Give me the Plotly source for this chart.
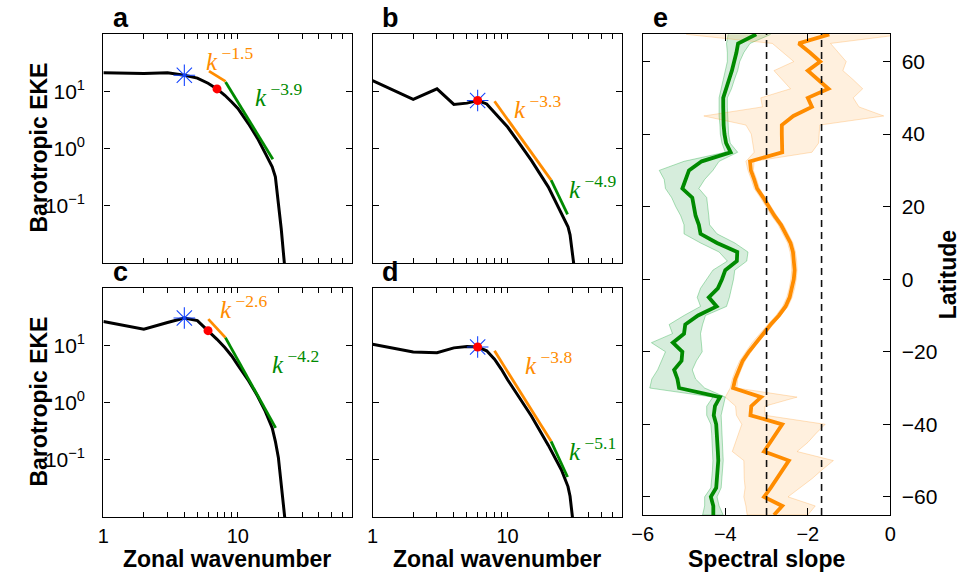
import plotly.graph_objects as go

W, H = 972, 573

# ---------------- data: spectra (panels a-d) ----------------
K_AC = [1, 2, 3, 4, 5, 6, 7, 8, 9, 10, 12, 14, 16, 18, 19, 20, 21, 22, 23]
EKE_A = [21, 20.5, 21, 19, 17, 13.8, 11, 8.5, 6.5, 5.0, 2.7, 1.5, 0.82, 0.48, 0.32, 0.12, 0.04, 0.012, 0.004]
EKE_C = [26, 19, 25, 30, 27, 18, 12.7, 9.1, 6.5, 4.5, 2.4, 1.3, 0.7, 0.36, 0.21, 0.11, 0.042, 0.014, 0.005]
K_BD = [1, 2, 3, 4, 5, 6, 7, 8, 9, 10, 12, 15, 20, 22, 25, 28, 29, 30, 31, 32]
EKE_B = [15.3, 7.2, 11, 5.9, 6.2, 6.9, 6.0, 4.3, 3.2, 2.37, 1.3, 0.62, 0.214, 0.134, 0.074, 0.043, 0.031, 0.015, 0.009, 0.005]
EKE_D = [10.4, 7.6, 7.4, 9.0, 9.5, 9.3, 8.0, 5.7, 3.8, 2.5, 1.3, 0.58, 0.18, 0.115, 0.067, 0.034, 0.023, 0.0115, 0.006, 0.003]

# fitted power-law segments: endpoints (k, EKE)
FIT_ORANGE_K = {"a": [6.1, 8.1], "b": [8.0, 21], "c": [6.03, 8.08], "d": [8.0, 21]}
FIT_ORANGE_E = {"a": [22.5, 14.9], "b": [6.7, 0.28], "c": [28.6, 13.6], "d": [8.0, 0.21]}
FIT_GREEN_K = {"a": [8.1, 18.2], "b": [21, 27.8], "c": [8.08, 19.1], "d": [21, 27.8]}
FIT_GREEN_E = {"a": [14.5, 0.65], "b": [0.28, 0.071], "c": [13.6, 0.36], "d": [0.21, 0.05]}
ORANGE_LABEL = {"a": "−1.5", "b": "−3.3", "c": "−2.6", "d": "−3.8"}
GREEN_LABEL = {"a": "−3.9", "b": "−4.9", "c": "−4.2", "d": "−5.1"}

STAR_K = {"a": 4, "b": 6, "c": 4, "d": 6}
STAR_E = {"a": 19, "b": 6.9, "c": 30, "d": 9.3}
DOT_K = {"a": 7, "b": 6, "c": 6, "d": 6}
DOT_E = {"a": 11, "b": 6.9, "c": 18, "d": 9.3}

K_TICKS = [1, 2, 3, 4, 5, 6, 7, 8, 9, 10, 20, 30, 40, 50, 60, 70]
K_TICK_TEXT = ["1", "", "", "", "", "", "", "", "", "10", "", "", "", "", "", ""]
EKE_TICKS = [0.1, 1, 10]
EKE_TICK_TEXT = ["10<sup>−1</sup>", "10<sup>0</sup>", "10<sup>1</sup>"]

# ---------------- data: spectral slope vs latitude (panel e) ----------------
LAT = [67.5, 65, 62.5, 60, 57.5, 55, 52.5, 50, 47.5, 45, 42.5, 40, 37.5, 35, 32.5, 30,
       27.5, 25, 22.5, 20, 17.5, 15, 12.5, 10, 7.5, 5, 2.5, 0, -2.5, -5, -7.5, -10,
       -12.5, -15, -17.5, -20, -22.5, -25, -27.5, -30, -32.5, -35, -37.5, -40, -42.5,
       -45, -47.5, -50, -52.5, -55, -57.5, -60, -62.5, -65]
OR_MEAN = [-1.48, -2.22, -1.95, -1.70, -2.00, -1.75, -1.50, -2.00, -1.90, -2.35, -2.63, -2.63,
           -2.63, -2.62, -3.40, -3.38, -3.30, -3.23, -3.08, -2.95, -2.81, -2.65, -2.53, -2.42,
           -2.36, -2.33, -2.32, -2.34, -2.38, -2.44, -2.54, -2.70, -2.90, -3.08, -3.28, -3.43,
           -3.58, -3.68, -3.76, -3.81, -3.13, -3.37, -3.39, -2.62, -2.76, -2.90, -3.06, -2.46,
           -2.60, -2.75, -2.90, -3.06, -2.62, -2.82]
OR_HI = [0.30, -1.45, -1.25, -1.07, -1.15, -0.90, -0.67, -0.90, -0.76, -0.16, -1.71, -1.73,
         -1.74, -1.90, -3.30, -3.32, -3.24, -3.17, -3.02, -2.89, -2.75, -2.59, -2.47, -2.36,
         -2.30, -2.27, -2.26, -2.28, -2.32, -2.38, -2.48, -2.64, -2.84, -3.02, -3.22, -3.37,
         -3.52, -3.62, -3.70, -3.72, -2.26, -3.04, -3.04, -1.58, -1.80, -2.00, -2.26, -1.38,
         -1.65, -1.90, -2.20, -2.48, -1.82, -2.00]
OR_LO = [-4.95, -2.86, -2.60, -2.34, -2.82, -2.62, -2.42, -3.14, -3.10, -4.52, -3.50, -3.37,
         -3.33, -3.30, -3.50, -3.45, -3.37, -3.30, -3.15, -3.02, -2.88, -2.72, -2.60, -2.49,
         -2.43, -2.40, -2.39, -2.41, -2.45, -2.51, -2.61, -2.77, -2.97, -3.15, -3.35, -3.50,
         -3.65, -3.75, -3.83, -3.88, -4.00, -3.75, -3.73, -3.60, -3.68, -3.75, -3.83, -3.55,
         -3.55, -3.54, -3.52, -3.55, -3.50, -3.47]
GR_MEAN = [-3.25, -3.69, -3.73, -3.78, -3.84, -3.91, -3.97, -4.05, -4.05, -4.05, -4.04, -4.02,
           -3.98, -3.87, -4.57, -4.88, -4.96, -5.04, -4.80, -4.76, -4.72, -4.64, -4.60, -4.20,
           -3.71, -3.72, -4.00, -4.08, -4.18, -4.40, -4.21, -4.66, -4.97, -5.00, -5.27, -5.04,
           -5.06, -5.24, -5.16, -5.12, -4.13, -4.25, -4.28, -4.22, -4.20, -4.19, -4.18, -4.17,
           -4.18, -4.20, -4.22, -4.35, -4.29, -4.29]
GR_HI = [-2.90, -3.40, -3.55, -3.65, -3.70, -3.78, -3.85, -3.95, -3.95, -3.95, -3.93, -3.92,
         -3.88, -3.70, -4.15, -4.30, -4.50, -4.64, -4.45, -4.42, -4.40, -4.38, -4.20, -3.77,
         -3.45, -3.48, -3.77, -3.80, -3.85, -3.90, -3.97, -4.48, -4.55, -4.60, -4.58, -4.56,
         -4.70, -4.80, -4.72, -4.50, -4.00, -4.05, -4.10, -4.10, -4.08, -4.07, -4.06, -4.05,
         -4.06, -4.08, -4.10, -4.20, -4.15, -4.05]
GR_LO = [-3.93, -3.97, -3.95, -3.95, -4.00, -4.05, -4.10, -4.15, -4.15, -4.15, -4.13, -4.12,
         -4.08, -4.00, -5.00, -5.60, -5.48, -5.45, -5.30, -5.20, -5.08, -5.00, -5.00, -4.60,
         -4.15, -3.95, -4.30, -4.45, -4.60, -4.68, -4.60, -5.00, -5.36, -5.28, -5.79, -5.45,
         -5.55, -5.64, -5.78, -5.83, -4.30, -4.45, -4.45, -4.35, -4.33, -4.32, -4.31, -4.30,
         -4.31, -4.33, -4.35, -4.50, -4.50, -4.55]
REF_SLOPES = [-3.0, -5.0 / 3.0]

X_TICKS_E = [-6, -4, -2, 0]
Y_TICKS_E = [-60, -40, -20, 0, 20, 40, 60]

# ---------------- styling ----------------
FONT = "Liberation Sans, Arial, Helvetica, sans-serif"
SERIF = "Liberation Serif, DejaVu Serif, serif"
ORANGE = "#ff8c00"
GREEN = "#008a00"


def px_x(p):
    return p / W


def px_y(p):
    return 1 - p / H


PANELS = {
    "a": dict(ax="", x=(94, 347), y=(34, 263), top=True, left=True),
    "b": dict(ax="2", x=(368, 622), y=(34, 263), top=True, left=False),
    "c": dict(ax="3", x=(94, 347), y=(288, 517), top=False, left=True),
    "d": dict(ax="4", x=(368, 622), y=(288, 517), top=False, left=False),
}
EKE = {"a": (K_AC, EKE_A), "b": (K_BD, EKE_B), "c": (K_AC, EKE_C), "d": (K_BD, EKE_D)}

fig = go.Figure()
layout = {}
annotations = []
shapes = []

for name, p in PANELS.items():
    ax = p["ax"]
    xr, yr = "x" + ax, "y" + ax
    k, e = EKE[name]
    fig.add_trace(go.Scatter(x=k, y=e, mode="lines", line=dict(color="black", width=3),
                             xaxis=xr, yaxis=yr, showlegend=False, hoverinfo="skip"))
    fig.add_trace(go.Scatter(x=FIT_ORANGE_K[name], y=FIT_ORANGE_E[name], mode="lines",
                             line=dict(color=ORANGE, width=2.8), xaxis=xr, yaxis=yr,
                             showlegend=False))
    fig.add_trace(go.Scatter(x=FIT_GREEN_K[name], y=FIT_GREEN_E[name], mode="lines",
                             line=dict(color=GREEN, width=2.8), xaxis=xr, yaxis=yr,
                             showlegend=False))
    fig.add_trace(go.Scatter(x=[STAR_K[name]], y=[STAR_E[name]], mode="markers",
                             marker=dict(symbol="asterisk-open", size=18, color="#1545ff",
                                         line=dict(color="#1545ff", width=1.1)),
                             xaxis=xr, yaxis=yr, showlegend=False))
    fig.add_trace(go.Scatter(x=[DOT_K[name]], y=[DOT_E[name]], mode="markers",
                             marker=dict(symbol="circle", size=9, color="#ff0000"),
                             xaxis=xr, yaxis=yr, showlegend=False))

    xd = [px_x(p["x"][0]), px_x(p["x"][1])]
    yd = [px_y(p["y"][1]), px_y(p["y"][0])]
    layout["xaxis" + ax] = dict(
        domain=xd, anchor=yr, type="log", range=[0, 1.848],
        showline=True, linecolor="black", linewidth=1.3, mirror="ticks",
        ticks="inside", ticklen=5, tickcolor="black", tickwidth=1,
        tickvals=K_TICKS, ticktext=K_TICK_TEXT, showticklabels=not p["top"],
        ticklabelstandoff=1,
        showgrid=False, zeroline=False,
        tickfont=dict(family=FONT, size=20, color="black"),
    )
    layout["yaxis" + ax] = dict(
        domain=yd, anchor=xr, type="log", range=[-2, 2],
        showline=True, linecolor="black", linewidth=1.3, mirror="ticks",
        ticks="inside", ticklen=6, tickcolor="black", tickwidth=1,
        tickvals=EKE_TICKS, ticktext=EKE_TICK_TEXT,
        showticklabels=p["left"], ticklabelstandoff=13,
        showgrid=False, zeroline=False,
        tickfont=dict(family=FONT, size=21, color="black"),
    )
    annotations.append(dict(text="<b>%s</b>" % name, x=px_x(p["x"][0] + 8), y=px_y(p["y"][0] + 1),
                            xref="paper", yref="paper", xanchor="left", yanchor="bottom",
                            showarrow=False, font=dict(family=FONT, size=27, color="black")))

# k labels positions (pixel centres)
LABEL_POS_O = {"a": (222, 59), "b": (536, 107), "c": (237, 307), "d": (547, 363)}
LABEL_POS_G = {"a": (272, 95), "b": (592, 187), "c": (290, 362), "d": (592, 449)}
for name in PANELS:
    for pos, lab, col in ((LABEL_POS_O[name], ORANGE_LABEL[name], ORANGE),
                          (LABEL_POS_G[name], GREEN_LABEL[name], GREEN)):
        annotations.append(dict(text="<i>k</i><sup> %s</sup>" % lab, x=px_x(pos[0]), y=px_y(pos[1]),
                                xref="paper", yref="paper", xanchor="center", yanchor="middle",
                                showarrow=False, font=dict(family=SERIF, size=25, color=col)))

# ---------------- panel e ----------------
def band(lo, hi, lat, fill, edge):
    return go.Scatter(x=list(lo) + list(hi)[::-1], y=list(lat) + list(lat)[::-1],
                      mode="lines", fill="toself", fillcolor=fill,
                      line=dict(color=edge, width=0.8), xaxis="x5", yaxis="y5",
                      showlegend=False, hoverinfo="skip")


fig.add_trace(band(GR_LO, GR_HI, LAT, "rgba(0,140,40,0.16)", "rgba(0,160,40,0.40)"))
fig.add_trace(band(OR_LO, OR_HI, LAT, "rgba(255,140,0,0.13)", "rgba(255,140,0,0.30)"))
fig.add_trace(go.Scatter(x=GR_MEAN, y=LAT, mode="lines", line=dict(color=GREEN, width=3.8),
                         xaxis="x5", yaxis="y5", showlegend=False))
fig.add_trace(go.Scatter(x=OR_MEAN, y=LAT, mode="lines", line=dict(color=ORANGE, width=3.8),
                         xaxis="x5", yaxis="y5", showlegend=False))
for s in REF_SLOPES:
    shapes.append(dict(type="line", xref="x5", yref="y5 domain", x0=s, x1=s, y0=0, y1=1,
                       line=dict(color="#111111", width=1.6, dash="7px,5px")))

layout["xaxis5"] = dict(
    domain=[px_x(643), px_x(895)], anchor="y5", range=[-6, 0],
    showline=True, linecolor="black", linewidth=1.3, mirror="ticks",
    ticks="inside", ticklen=7, tickcolor="black", tickvals=X_TICKS_E,
    ticklabelstandoff=1,
    showgrid=False, zeroline=False, tickfont=dict(family=FONT, size=20, color="black"),
)
layout["yaxis5"] = dict(
    domain=[px_y(515), px_y(34)], anchor="x5", range=[-65, 67.6], side="right",
    showline=True, linecolor="black", linewidth=1.3, mirror="ticks",
    ticks="inside", ticklen=7, tickcolor="black", tickvals=Y_TICKS_E,
    ticklabelstandoff=6,
    showgrid=False, zeroline=False, tickfont=dict(family=FONT, size=21, color="black"),
)
annotations.append(dict(text="<b>e</b>", x=px_x(651), y=px_y(35), xref="paper", yref="paper",
                        xanchor="left", yanchor="bottom", showarrow=False,
                        font=dict(family=FONT, size=27, color="black")))

# axis titles
title_font = dict(family=FONT, size=23, color="black")
for cy in (148, 402):
    annotations.append(dict(text="<b>Barotropic EKE</b>", x=px_x(28), y=px_y(cy), xref="paper",
                            yref="paper", textangle=-90, showarrow=False, font=title_font,
                            xanchor="center", yanchor="middle", borderpad=0))
for cx in (220, 495):
    annotations.append(dict(text="<b>Zonal wavenumber</b>", x=px_x(cx), y=px_y(559), xref="paper",
                            yref="paper", showarrow=False, font=title_font, borderpad=0,
                            xanchor="center", yanchor="middle"))
annotations.append(dict(text="<b>Spectral slope</b>", x=px_x(769), y=px_y(559), xref="paper",
                        yref="paper", showarrow=False, font=title_font, borderpad=0,
                        xanchor="center", yanchor="middle"))
annotations.append(dict(text="<b>Latitude</b>", x=px_x(954), y=px_y(275), xref="paper",
                        yref="paper", textangle=-90, showarrow=False, font=title_font,
                        xanchor="center", yanchor="middle", borderpad=0))

fig.update_layout(
    width=W, height=H, margin=dict(l=0, r=0, t=0, b=0),
    paper_bgcolor="white", plot_bgcolor="white", showlegend=False,
    annotations=annotations, shapes=shapes, **layout,
)

fig.write_html("out.html")
